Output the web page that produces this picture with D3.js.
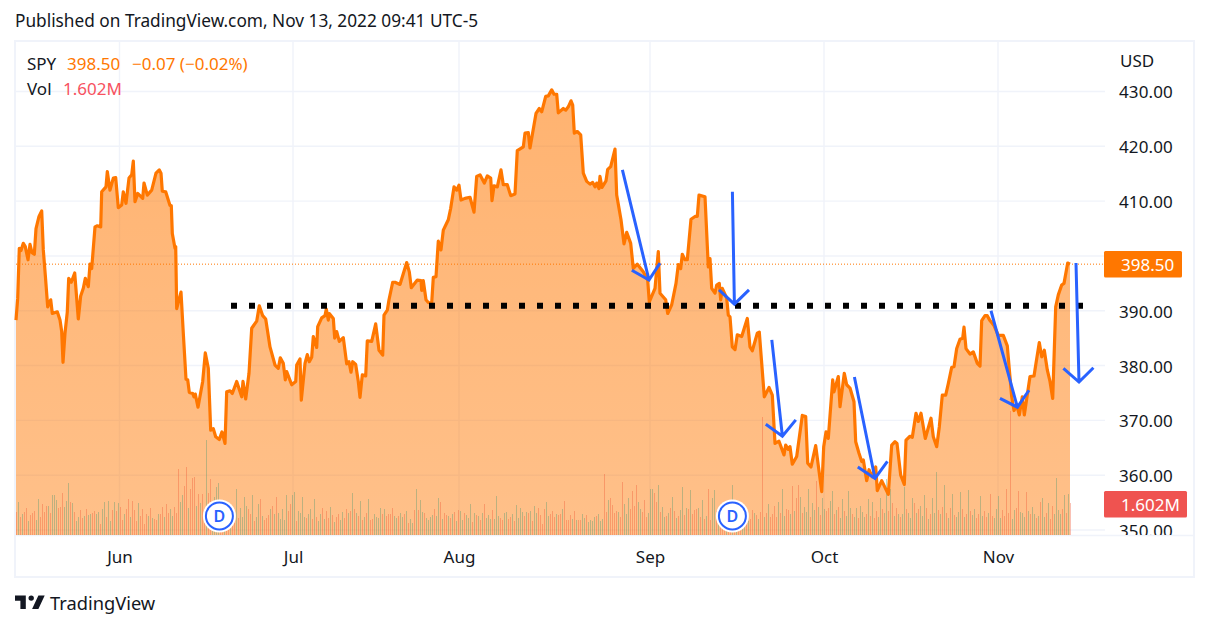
<!DOCTYPE html>
<html><head><meta charset="utf-8">
<script src="https://cdnjs.cloudflare.com/ajax/libs/d3/7.8.5/d3.min.js"></script>
<style>html,body{margin:0;padding:0;background:#fff}svg{display:block}text{font-family:"Noto Sans",sans-serif}</style>
</head><body><svg id="c" width="1209" height="630"></svg>
<script>
// [bar number on the session axis (about 4 bars per trading day), price]
const priceSeries=[[0,388.3],[.85,392.3],[1.65,401.4],[2.5,401],[3.65,402.3],[4.65,401.7],[6,399.3],[7,402.1],[8,400.6],[9.15,400.3],[10,405],[11.5,407.2],[12.85,408.2],[13.65,401.1],[14.65,396.5],[15.85,390.7],[17.35,392],[18.15,389.5],[20.65,389.8],[22,388.3],[22.85,386.2],[23.5,380.6],[24.5,385.9],[25.65,389.8],[26.35,395.9],[27.65,395.2],[29.35,396.9],[31.15,388.5],[32.35,392.7],[33.65,394.1],[34.65,395.9],[36.15,394.4],[37,398.5],[37.85,397.7],[39.5,405.3],[40.65,405.5],[42.35,405.3],
[42.85,411.7],[45,412.6],[45.65,415.4],[47,412],[48.65,414.2],[49.85,414.3],[51.15,408.8],[52.85,409.3],[53.65,411.7],[55,409.6],[56.5,414.2],[57.85,414.8],[58.65,417.3],[59.5,409.9],[60.85,411.4],[63.35,410.5],[64,413.3],[65.65,411.1],[67.85,412],[70,415.1],[71.65,415.7],[72.5,415.1],[73.15,411.8],[74.85,411.7],[77,409.2],[77.65,409.2],[78.15,404.1],[79.5,401.4],[79.85,401.7],[80.35,390.4],[82.5,393.4],[83.65,385.9],[85,377.5],[85.85,377.4],[86.65,375.1],[88.35,374.9],[89,374.3],[89.65,374.8],[91,372.4],[93.35,377.1],[94.65,382.3],[96.15,379.5],[97.35,368.2],[98.65,368.5],[99.85,367],[101.65,366.5],[103,367.9],[104.5,365.8],[105.35,375.2],[107,375.4],[108.15,374.9],[110.35,377.1],[112.85,374.3],[113.5,377.1],[114.85,373.9],[116.5,378.6],[117.85,386.8],[120.35,388.1],[121.65,390.9],[123.35,389.1],[124.85,388.5],[127,383.4],[129.5,380.1],[131.15,379.5],[132.15,381.4],[133.65,380.4],[134.65,377.4],[135.35,378.9],[137.85,376.5],[139.85,377.1],[140.35,380.1],[142,381.2],[142.65,373.7],[144.5,380.4],[145.65,382],[146.65,380.7],[147.85,381.5],[148.65,385.3],[150.35,383.3],[150.85,387.1],[152.85,388.7],[154.5,389.1],[155.15,390.3],[156.15,388.3],[156.65,389.5],[158.65,388.6],[159.35,385],[160.35,386.2],[161.65,384.4],[163.65,385.1],[165.35,380.3],[166.5,380.7],[167.5,378.8],[168.35,380.7],[169.85,380.2],[171.15,377.1],[172,374.2],[173.15,378.3],[174.85,378.1],[175.65,384.5],[177.85,384.4],[179.85,387.6],[181.5,382.8],[183.35,381.9],[184,389.2],[185.65,390.1],[186.5,392],[188.35,395.2],[189.5,395.2],[192,394.8],[195.35,398.8],[196.65,397.1],[197.65,394.2],[200.65,395.6],[202.5,395.5],[202.85,393.7],[203.65,395.5],[205,392],[206.15,391.5],[207.85,391.4],[208.65,396.1],[210,396.2],[211.15,402.7],[212.5,401.1],[213.65,404.7],[216.15,406.6],[217.35,408.7],[219,412.6],[220.35,412],[221.5,412.9],[222.5,410.2],[224.5,410.5],[227,410.7],[229,408],[230.35,414.5],[232,414.8],[234.15,413.3],[235.65,414.6],[237.35,414.2],[238,410.1],[239,412.8],[240.65,412.6],[242.5,415.7],[243.65,413],[245.65,413],[247.35,411],[249.5,411.3],[250.65,419.2],[253.65,419.9],[254.5,422.4],[256.15,422.5],[257,419.7],[260,426],[261.65,426.9],[262.85,426.3],[264.85,429.1],[266.15,429.2],[267.85,430.3],[269,429.5],[270.35,429.5],[271.15,426.1],[273.65,426.9],[274.85,426.6],[276.15,427.2],[277.5,428.3],[278.35,427.5],[279.15,422.4],[280.65,422.7],[282.35,422.1],[283.65,415.1],[285.35,413.6],[287,413.1],[288.35,413.4],[289.5,412.6],[290.35,413.3],[291.5,412.3],[292,414.5],[293,412.5],[295,413.7],[295.85,415.8],[297.35,416.3],[299.5,419.5],[300.35,411.1],[302.5,406.6],[304,402.2],[305.35,404.3],[307.35,402.3],[308.65,397.7],[310.65,398.5],[313.65,397.1],[315.85,395.6],[316.65,391.6],[319.5,394.1],[321.15,400.8],[322,393.2],[324.85,392],[325.85,389.5],[327.85,391.1],[330,395],[331.15,398.4],[332.35,397.7],[333.15,400.3],[334.5,399.3],[335.65,399.3],[337.5,406.7],[339.5,407.2],[340.65,407.2],[341.5,411.1],[344.5,410.8],[346.15,398],[347,399.5],[347.85,394.1],[349.5,393.2],[350.35,394.7],[351.65,395],[352.35,392],[353.15,394.1],[355.35,392.3],[356.15,389.2],[357,388.9],[358.15,383.4],[359.5,382.9],[360.65,385.6],[362.85,385.3],[365.65,388.6],[367,383.4],[368.15,382.7],[370.65,385.9],[371.65,386.1],[374.15,374.3],[376.5,376],[378.15,374.6],[379.5,365.8],[381.5,366.2],[384,363.7],[384.85,365.5],[386.15,364.7],[387,365.2],[388.15,362],[390.35,363.4],[393.15,370.9],[394.85,370.7],[395.85,362.2],[397.5,361.5],[399.85,365.4],[402.85,357],[403.85,365.2],[405,367.9],[406.15,366.7],[408.35,377.4],[409,375.2],[411.15,378],[412,372.5],[414.15,378.6],[415.35,376.5],[417,375.9],[419,373.4],[419.85,366.1],[421.5,364],[422.85,362.5],[423.65,362.8],[425.35,359],[426.5,361],[428.15,359.7],[429.85,361.5],[430.65,357.2],[432.85,359],[436.15,356.5],[437.85,365.5],[439.5,366.1],[440.5,365.8],[442.35,360],[444.15,358.3],[445,366.4],[447,367.1],[448.15,366.9],[450,371.3],[451.15,369.8],[452.5,371.3],[454.65,366.7],[457.5,370.4],[458.65,367],[460.35,365.2],[461.65,368.8],[463.15,374.6],[464.85,374.6],[466.15,376.7],[467.85,379.7],[469,379.8],[470.35,383.1],[472,384.8],[473.35,385],[474,387],[475,383.1],[477,382.1],[478.65,382.5],[480.65,380.4],[482,379.9],[482.85,388.2],[484.5,389.1],[485.65,389.1],[487,388.2],[489,387.3],[491.15,385.5],[493.65,385.5],[495.65,383.6],[497.85,374.3],[499,371.8],[500.35,372.8],[501.65,371],[503.15,374.3],[504.15,371],[507,378],[509,378.1],[510,380.4],[511.65,384.2],[512.85,381.6],[514.15,382.8],[515.65,379.2],[517,377.1],[518.35,374],[519.85,390.7],[521.15,392.9],[522.85,394.7],[524,395],[525.85,398.7],[527,398.5]];
// volume in millions; + closed up, - closed down
const volumeSigned=[
-1.15,1.65,-.9,1.05,-1.15,-1.35,.7,-1,-1.1,-1.2,.75,1.8,-.9,-1.55,-1.15,-1.45,1.45,-1.1,2,2,
1.75,-1.35,-1.4,-2.1,1.4,1.7,2.6,-1.65,1.6,-1.15,.7,.9,-1.25,-.85,.95,-1.3,1,1.05,-1.1,-1.2,
1.05,1.15,-.55,1.3,1.65,-.9,1.7,.7,-1.25,1.65,-1.2,1.6,-1.4,-.75,1.05,-1.3,-1.8,.9,-1.7,-1.25,
-.7,1.6,-.95,-1.3,-.55,-1.05,.95,-1.35,.85,-.8,-.75,1.05,-1.05,-1.4,.9,-1.55,-1.1,1.3,.95,-1.4,
-1.1,-3.3,1.65,2,-2.45,-3.4,1.35,-2.3,-2.85,-2.9,1.45,-2.05,1.6,-2.05,-1.25,4.75,-2.1,-2.8,1.3,1.9,
2.4,2.6,-1.5,-1.1,1.35,-1.45,-.85,.65,-.95,-.7,2.3,-.85,1.35,.9,1.9,1.45,-1.3,-1.05,2,-.7,
.9,1.55,-1.8,.95,-.75,-.85,-1,1.3,-1.45,1.05,-1.9,1.1,.8,1.3,.75,2,-1.2,-1.55,2,2.15,
-.7,1.2,1.1,1.9,.9,-.85,1.05,1.3,-.8,1.8,-.9,.7,1.05,-1.35,.8,-1.2,-.85,1.4,-1,.65,
-.9,-1.05,.75,1.15,-.85,-1.3,1.1,-1.2,2.1,-1.3,1.1,-.95,1.7,-.75,.9,-1.1,1.8,-.75,-.8,1.05,
.9,.85,1.35,-1.05,1.3,-.95,-1.05,-1.05,-1.35,.95,.85,-.95,1.1,.9,-1.05,1.2,-.6,.8,.6,-1.25,
2.3,-1.25,1.75,1.15,-1.1,.85,.75,.9,1,-1.3,.95,1.85,-1.65,.8,-1.1,-1,.95,-.85,1.05,-1.15,
.7,-1.25,1.2,.75,-1.1,1,.85,1.55,-.65,1.1,-1,.95,-.75,1.1,-1.55,.85,1,.8,-1.25,.8,
1.95,.95,-.85,-.75,1.1,1.15,-.8,-.9,1.05,-.7,1.5,.85,1.35,1.15,-.95,1.15,-1.1,1.2,-.7,1.45,
1.1,-1.35,-1,-.55,-1.3,1.65,.95,-1.05,-1.2,-.9,1.05,-1,-1.05,1.3,-1.7,-.75,-.75,-1,.8,-1.2,
.75,-.75,-.75,1.05,.85,-1,.65,.75,.7,.9,-.95,1.05,.7,.8,-3.05,-1.15,1.75,-1.85,-1.5,-1.1,
-1.2,1.15,-.9,-2.65,1.55,1.05,1.85,-1.3,-2.2,-1.45,-2.5,1.65,1.3,-1.15,-1.75,-.9,1.1,2.3,2.3,-2.1,
-1.65,2.5,-1.15,1.4,.9,-.95,1.1,-1.35,1.9,-1.2,.85,-.95,1.25,2.4,-1,1.35,-1.3,2.25,-1.05,-1.25,
-1.3,1.35,-.9,1.75,-.8,.95,-2.3,-.75,1.85,2.25,-1.2,.85,-1.05,-.7,-1.3,1.55,-1.25,-1.1,2.5,-1.05,
1.3,-.9,-1.45,1.1,.85,-1.2,.7,-.8,-1.25,1.1,-1,.8,-1.15,-5.9,.9,-1.1,1.55,-.9,-1.05,-1.45,
-.9,1.65,-1.1,2.3,.95,-1.3,-1.25,1.05,-2.45,1.2,-1.85,-2.5,1.9,-1.1,1.4,1.15,2.3,-.9,1.6,1.25,
-2.7,1.4,-1,1.85,1.3,-1.2,-1.35,1.7,2.2,-1.05,1.25,-1.4,.85,1.8,-1.2,.95,2.2,1.35,-1.05,.9,
1.35,-.85,1.45,1.15,.9,-1.05,1.8,-.95,1.65,-.85,-1.2,.9,1.85,-1.3,1.1,2.8,-1.2,2.3,-1.6,.95,
-1.35,1.05,-.9,1.05,2.4,-1.3,1.1,.85,1.85,-1.6,1.1,-1.3,1.45,.95,2,-1.35,.8,-1.05,1.85,1.1,
3.15,-1.25,1.05,-1.4,2.5,-1.1,.85,-1.35,2.05,-1,.9,1.15,2.15,-1.3,.9,-1.05,2.25,-1.2,1,1.3,
-.85,-1.05,1.95,.95,-1.2,-.9,1.1,-2.05,-.95,.85,1.3,1.95,.85,-1.25,-.95,-2.3,-1.1,-6.2,.8,1.25,
-1.35,-2.2,1.15,1.1,.9,-2.15,1.2,-1.05,1.4,1.05,-.85,.95,-1.65,1.85,.9,-1.1,1.6,-.8,-1.45,1.05,
2.85,1.25,1.05,-1.3,2,-1.1,2.05,-1.602];
const monthLabels=["Jun","Jul","Aug","Sep","Oct","Nov"];
const monthBars=[51.75,138.5,221.5,317,404,491];
const priceTicks=[350,360,370,380,390,400,410,420,430];
const lastPrice=398.5, levelPrice=390.9, levelFrom=107.5, levelTo=533.5;
const dividendBars=[101.7,358.2];
// trendline arrows: tail, tip, left barb, right barb
const arrowBars=[[303.2,316.5,307.9,322],[358.2,359.2,351.5,366.5],[377.9,383.2,374.9,389.9],[419.2,429.5,420.9,435.7],[487.5,500.7,492,506.5],[530,531.5,523.7,538.7]];
const arrowPrices=[[415.7,395.6,397.4,398.7],[411.7,391.2,393.8,393.8],[384.7,367.1,369.3,370.1],[377.9,359.4,361.5,362.5],[390,372.4,374,375.5],[398.7,377,379.5,379.6]];

const svg=d3.select("#c");
const x=d3.scaleLinear().domain([0,526.5]).range([16,1069]);
const y=d3.scaleLinear().domain([350,430]).range([530,91.5]);
const vol=d3.scaleLinear().domain([0,1]).range([535,515]);
const INK="#131722",GRID="#f0f3fa",ORANGE="#ff7700",BLUE="#2962ff";
const F=17;
svg.append("rect").attr("x",15).attr("y",41).attr("width",1179).attr("height",536).attr("fill","none").attr("stroke",GRID).attr("stroke-width",2);
const defs=svg.append("defs");
const g=defs.append("linearGradient").attr("id","fill").attr("gradientUnits","userSpaceOnUse").attr("x1",0).attr("x2",0).attr("y1",91).attr("y2",535);
g.append("stop").attr("offset",0).attr("stop-color",ORANGE).attr("stop-opacity",.56);
g.append("stop").attr("offset",1).attr("stop-color",ORANGE).attr("stop-opacity",.46);
defs.append("clipPath").attr("id","axisClip").append("rect").attr("x",1105).attr("y",41).attr("width",90).attr("height",494);
svg.append("g").selectAll("line").data(priceTicks).join("line").attr("x1",16).attr("x2",1105).attr("y1",d=>y(d)).attr("y2",d=>y(d)).attr("stroke",GRID).attr("stroke-width",1.4);
svg.append("g").selectAll("line").data(monthBars).join("line").attr("x1",d=>x(d)).attr("x2",d=>x(d)).attr("y1",42).attr("y2",535).attr("stroke",GRID).attr("stroke-width",1.4);
svg.append("line").attr("x1",16).attr("x2",1193).attr("y1",535.5).attr("y2",535.5).attr("stroke",GRID).attr("stroke-width",1.5);
svg.append("path").attr("d",d3.area().x(d=>x(d[0])).y0(535).y1(d=>y(d[1]))(priceSeries)).attr("fill","url(#fill)");
svg.append("g").selectAll("rect").data(volumeSigned).join("rect")
 .attr("x",(d,i)=>x(i)).attr("width",1).attr("y",d=>Math.round(vol(Math.abs(d)))).attr("height",d=>535-Math.round(vol(Math.abs(d))))
 .attr("fill",d=>d>0?"rgba(70,150,110,.36)":"rgba(239,83,50,.36)");
svg.append("line").attr("x1",16).attr("x2",1105).attr("y1",y(lastPrice)).attr("y2",y(lastPrice)).attr("stroke",ORANGE).attr("stroke-width",1).attr("stroke-dasharray","1 2");
svg.append("path").attr("d",d3.line().x(d=>x(d[0])).y(d=>y(d[1]))(priceSeries)).attr("fill","none").attr("stroke",ORANGE).attr("stroke-width",3.2).attr("stroke-linejoin","round");
svg.append("line").attr("x1",x(levelFrom)).attr("x2",x(levelTo)).attr("y1",y(levelPrice)).attr("y2",y(levelPrice)).attr("stroke","#000").attr("stroke-width",6).attr("stroke-dasharray","6 12");
arrowBars.forEach((bs,k)=>{const p=bs.map((b,i)=>[x(b),y(arrowPrices[k][i])]);
 const ln=d3.line();
 svg.append("path").attr("d",ln([p[0],p[1]])+ln([p[2],p[1],p[3]])).attr("fill","none").attr("stroke",BLUE).attr("stroke-width",3);
});
const dv=svg.append("g").selectAll("g").data(dividendBars).join("g").attr("transform",d=>`translate(${x(d)},516)`);
dv.append("circle").attr("r",16.5).attr("fill","#fff");
dv.append("circle").attr("r",13.5).attr("fill","#fff").attr("stroke",BLUE).attr("stroke-width",2);
dv.append("text").attr("text-anchor","middle").attr("dy",5.5).attr("font-size",16).attr("font-weight",600).attr("fill",BLUE).text("D");
const ax=svg.append("g").attr("clip-path","url(#axisClip)").append("g").attr("transform","translate(1105,1)")
 .call(d3.axisRight(y).tickValues(priceTicks).tickSize(0).tickPadding(14).tickFormat(d3.format(".2f")));
ax.select(".domain").remove();
ax.selectAll("text").attr("font-size",F).attr("fill",INK).style("font-family",'"Noto Sans",sans-serif').style("letter-spacing",".1px");
const bx=svg.append("g").attr("transform","translate(0,535)")
 .call(d3.axisBottom(x).tickValues(monthBars).tickSize(0).tickPadding(16).tickFormat((d,i)=>monthLabels[i]));
bx.select(".domain").remove();
bx.selectAll("text").attr("font-size",F).attr("fill",INK).style("font-family",'"Noto Sans",sans-serif');
function txt(tx,ty,s,c,fs){return svg.append("text").attr("x",tx).attr("y",ty).attr("font-size",fs||F).attr("fill",c||INK).text(s);}
txt(1120,67,"USD");
svg.append("rect").attr("x",1104).attr("y",251).attr("width",78).attr("height",26.5).attr("rx",1.5).attr("fill",ORANGE);
txt(1121,270.5,d3.format(".2f")(lastPrice),"#fff");
svg.append("rect").attr("x",1104).attr("y",491).attr("width",83).attr("height",26.5).attr("rx",1.5).attr("fill","#ef5350");
txt(1121,510.5,"1.602M","#fff");
txt(15,27,"Published on TradingView.com, Nov 13, 2022 09:41 UTC-5").attr("font-size",17.25);
txt(27,70,"SPY"); txt(67,70,"398.50",ORANGE); txt(132,70,"−0.07 (−0.02%)",ORANGE);
txt(27,95,"Vol"); txt(63,95,"1.602M","#f7525f");
svg.append("path").attr("transform","translate(13.2,590) scale(.9)").attr("fill",INK).attr("d","M14 6H2v6h6v9h6V6zm14 15h-7l7-15h7l-7 15zm-8-9a3 3 0 100-6 3 3 0 000 6z");
txt(50,610,"TradingView",INK,18.3);
</script>
</body></html>
